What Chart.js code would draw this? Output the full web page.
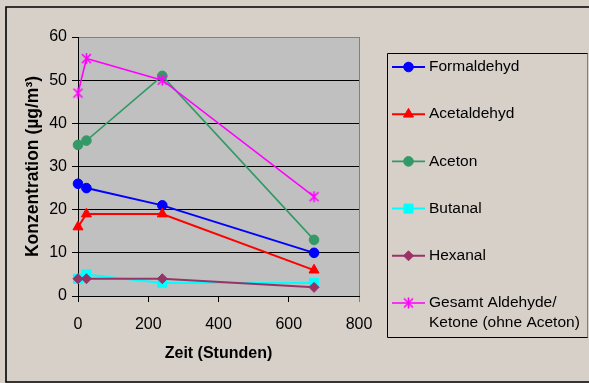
<!DOCTYPE html>
<html>
<head>
<meta charset="utf-8">
<script src="https://cdn.jsdelivr.net/npm/chart.js@4/dist/chart.umd.min.js"></script>
<style>
  html, body { margin: 0; padding: 0; background: #D7D0C9; }
  canvas { display: block; }
</style>
</head>
<body>
<canvas id="c" width="589" height="383"></canvas>
<script>
// ---- Data ----
const hours = [0, 24, 240, 672];
const seriesNames = ['Formaldehyd', 'Acetaldehyd', 'Aceton', 'Butanal', 'Hexanal', 'Gesamt Aldehyde/\nKetone (ohne Aceton)'];
const formaldehyd = [26, 25, 21, 10];
const acetaldehyd = [16, 19, 19, 6];
const aceton = [35, 36, 51, 13];
const butanal = [4, 5, 3, 3];
const hexanal = [4, 4, 4, 2];
const gesamt = [47, 55, 50, 23];
const yTicks = [0, 10, 20, 30, 40, 50, 60];
const xTicks = [0, 200, 400, 600, 800];

const FONT = 'Liberation Sans, Arial, sans-serif';

// custom asterisk marker (x with vertical stroke)
function makeStar(color) {
  const c = document.createElement('canvas');
  c.width = 13; c.height = 13;
  const g = c.getContext('2d');
  g.strokeStyle = color; g.lineWidth = 1.6;
  g.beginPath();
  g.moveTo(2, 2); g.lineTo(11, 11);
  g.moveTo(11, 2); g.lineTo(2, 11);
  g.moveTo(6.5, 1); g.lineTo(6.5, 12);
  g.stroke();
  return c;
}

const styles = [
  { color: '#0000FF', pointStyle: 'circle', radius: 4.8, lw: 2 },
  { color: '#FF0000', pointStyle: 'triangle', radius: 5.8, lw: 2 },
  { color: '#339966', pointStyle: 'circle', radius: 4.8, lw: 1.6 },
  { color: '#00FFFF', pointStyle: 'rect', radius: 6.4, lw: 2 },
  { color: '#993366', pointStyle: 'rectRot', radius: 5, lw: 2 },
  { color: '#FF00FF', pointStyle: makeStar('#FF00FF'), radius: 6, lw: 1.6 }
];
const values = [formaldehyd, acetaldehyd, aceton, butanal, hexanal, gesamt];

const datasets = values.map((vals, i) => ({
  label: seriesNames[i],
  data: hours.map((h, j) => ({ x: h, y: vals[j] })),
  showLine: true,
  clip: false,
  borderColor: styles[i].color,
  backgroundColor: styles[i].color,
  borderWidth: styles[i].lw,
  pointStyle: styles[i].pointStyle,
  pointRadius: styles[i].radius,
  pointBorderWidth: 1,
  pointBackgroundColor: styles[i].color,
  pointBorderColor: styles[i].color,
  order: 10 - i
}));

const framePlugin = {
  id: 'frame',
  beforeDraw(chart) {
    const { ctx, chartArea: a } = chart;
    ctx.save();
    ctx.fillStyle = '#D7D0C9';
    ctx.fillRect(0, 0, chart.width, chart.height);
    ctx.fillStyle = '#C0C0C0';
    ctx.fillRect(a.left, a.top, a.right - a.left, a.bottom - a.top);
    ctx.restore();
  },
  afterDraw(chart) {
    const ctx = chart.ctx;
    ctx.save();
    // outer frame
    ctx.strokeStyle = '#000';
    ctx.lineWidth = 1.6;
    ctx.beginPath();
    ctx.moveTo(600, 7); ctx.lineTo(6, 7); ctx.lineTo(6, 382); ctx.lineTo(600, 382);
    ctx.stroke();
    // legend box
    ctx.lineWidth = 1;
    ctx.strokeStyle = '#000';
    ctx.beginPath();
    ctx.moveTo(588, 53.5); ctx.lineTo(387.5, 53.5); ctx.lineTo(387.5, 337.5); ctx.lineTo(588, 337.5);
    ctx.stroke();
    ctx.strokeStyle = '#808080';
    ctx.beginPath(); ctx.moveTo(587.5, 53.5); ctx.lineTo(587.5, 337.5); ctx.stroke();
    // legend entries
    chart.data.datasets.forEach((ds, i) => {
      const y = 67 + i * 47.2;
      ctx.strokeStyle = ds.borderColor;
      ctx.lineWidth = ds.borderWidth;
      ctx.beginPath(); ctx.moveTo(392, y); ctx.lineTo(425, y); ctx.stroke();
      ctx.fillStyle = ds.pointBackgroundColor;
      ctx.strokeStyle = ds.pointBorderColor;
      ctx.lineWidth = 1;
      Chart.helpers.drawPoint(ctx, { pointStyle: ds.pointStyle, radius: ds.pointRadius, rotation: 0, borderWidth: 1 }, 408.5, y);
      ctx.fillStyle = '#000';
      ctx.font = '15.5px ' + FONT;
      ctx.textBaseline = 'middle';
      ctx.textAlign = 'left';
      String(ds.label).split('\n').forEach((line, k) => ctx.fillText(line, 429, y + k * 20));
    });
    ctx.restore();
  }
};

new Chart(document.getElementById('c'), {
  type: 'scatter',
  data: { datasets },
  plugins: [framePlugin],
  options: {
    responsive: false,
    animation: false,
    devicePixelRatio: 1,
    layout: { padding: { left: 0, right: 230, top: 37, bottom: 0 } },
    plugins: { legend: { display: false }, tooltip: { enabled: false } },
    scales: {
      x: {
        type: 'linear', min: 0, max: 800,
        afterBuildTicks: s => { s.ticks = xTicks.map(v => ({ value: v })); },
        afterFit: s => { s.height = 87; },
        ticks: { color: '#000', font: { family: FONT, size: 16 }, padding: 13, maxRotation: 0 },
        grid: {
          drawOnChartArea: true,
          color: c => (c.tick && c.tick.value === 800) ? '#808080' : 'rgba(0,0,0,0)',
          tickColor: c => (c.tick && c.tick.value === 800) ? '#808080' : '#000',
          tickLength: 6, lineWidth: 1
        },
        border: { display: true, color: '#000', width: 1 },
        title: { display: true, text: 'Zeit (Stunden)', color: '#000', font: { family: FONT, size: 16, weight: 'bold' }, padding: { top: 0, bottom: 20 } }
      },
      y: {
        type: 'linear', min: 0, max: 60,
        afterBuildTicks: s => { s.ticks = yTicks.map(v => ({ value: v })); },
        afterFit: s => { s.width = 78; },
        ticks: { color: '#000', font: { family: FONT, size: 16 }, padding: 5 },
        grid: {
          color: c => (c.tick && c.tick.value === 60) ? '#808080' : '#000',
          tickColor: '#000',
          tickLength: 6, lineWidth: 1
        },
        border: { display: true, color: '#000', width: 1 },
        title: { display: true, text: 'Konzentration (µg/m³)', color: '#000', font: { family: FONT, size: 17.5, weight: 'bold' }, padding: { top: 23, bottom: 0 } }
      }
    }
  }
});
</script>
</body>
</html>
